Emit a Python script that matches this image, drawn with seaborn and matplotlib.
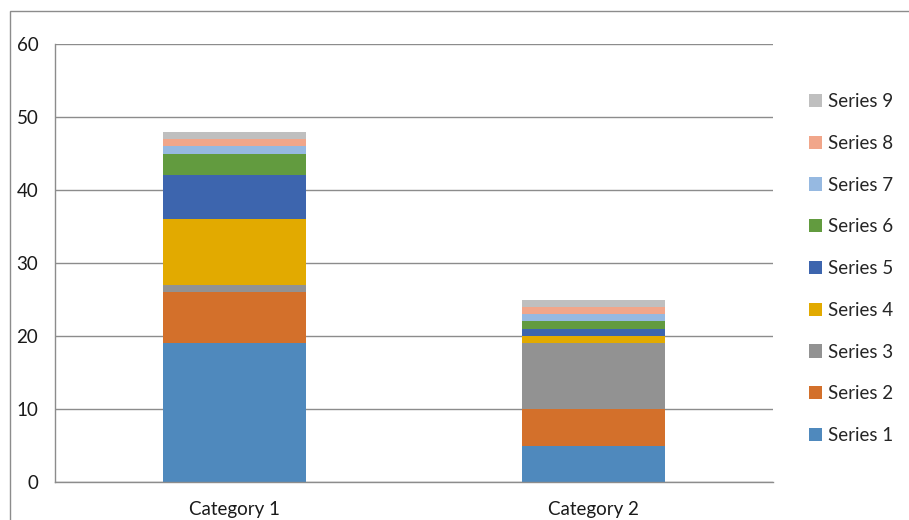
import numpy as np
import pandas as pd
import seaborn as sns
import matplotlib.pyplot as plt
from matplotlib.patches import Rectangle

categories = ["Category 1", "Category 2"]
series = ["Series 1", "Series 2", "Series 3", "Series 4", "Series 5",
          "Series 6", "Series 7", "Series 8", "Series 9"]
cat1 = [19, 7, 1, 9, 6, 3, 1, 1, 1]
cat2 = [5, 5, 9, 1, 1, 1, 1, 1, 1]
colors = ["#4F89BD", "#D3702B", "#929292", "#E2AA00", "#3D65AE",
          "#629B3F", "#96B9E1", "#F1A68A", "#BFBFBF"]
y_ticks = [0, 10, 20, 30, 40, 50, 60]

rows = []
for s, a, b in zip(series, cat1, cat2):
    rows.append({"cat": categories[0], "series": s, "val": a})
    rows.append({"cat": categories[1], "series": s, "val": b})
df = pd.DataFrame(rows)

sns.set_style("white")
plt.rcParams['font.family'] = ['Lato', 'DejaVu Sans']
plt.rcParams['font.size'] = 13.5

fig = plt.figure(figsize=(9.09, 5.2), dpi=100)
ax = fig.add_axes([55 / 909, 1 - 482 / 520, (773 - 55) / 909, (482 - 44) / 520])

# seaborn stacks the first hue level on top, so reverse the order
order = series[::-1]
pal = dict(zip(series, colors))
sns.histplot(df, x="cat", hue="series", weights="val", multiple="stack",
             discrete=True, shrink=0.4, hue_order=order, palette=pal,
             linewidth=0, alpha=1, ax=ax)

ax.set_xlim(-0.5, 1.5)
ax.set_ylim(0, 60)
ax.set_yticks(y_ticks)
ax.yaxis.grid(True, color="#8c8c8c", linewidth=1)
ax.set_axisbelow(True)
ax.set_xticks([0, 1])
ax.set_xticklabels(categories)
ax.set_xticks([-0.5, 0.5, 1.5], minor=True)
ax.tick_params(axis="x", which="major", length=0, pad=14, colors="#1a1a1a")
ax.tick_params(axis="x", which="minor", length=4.3, color="#8c8c8c", width=1)
ax.tick_params(axis="y", length=5, width=1, pad=7, colors="#1a1a1a")
ax.tick_params(axis="y", color="#8c8c8c")
ax.set_xlabel("")
ax.set_ylabel("")
for side in ["top", "right"]:
    ax.spines[side].set_visible(False)
for side in ["left", "bottom"]:
    ax.spines[side].set_color("#8c8c8c")
    ax.spines[side].set_linewidth(1)

sns.move_legend(ax, loc="upper left", bbox_to_anchor=(1.04, 0.905),
                frameon=False, title=None, handlelength=0.7,
                handleheight=0.7, handletextpad=0.3, labelspacing=1.32,
                borderaxespad=0)

fig.patches.append(Rectangle((10 / 909, -0.5), 2, 1.5 - 11 / 520,
                             transform=fig.transFigure, fill=False,
                             edgecolor="#8c8c8c", linewidth=1))

fig.savefig("out.png", dpi=100)
